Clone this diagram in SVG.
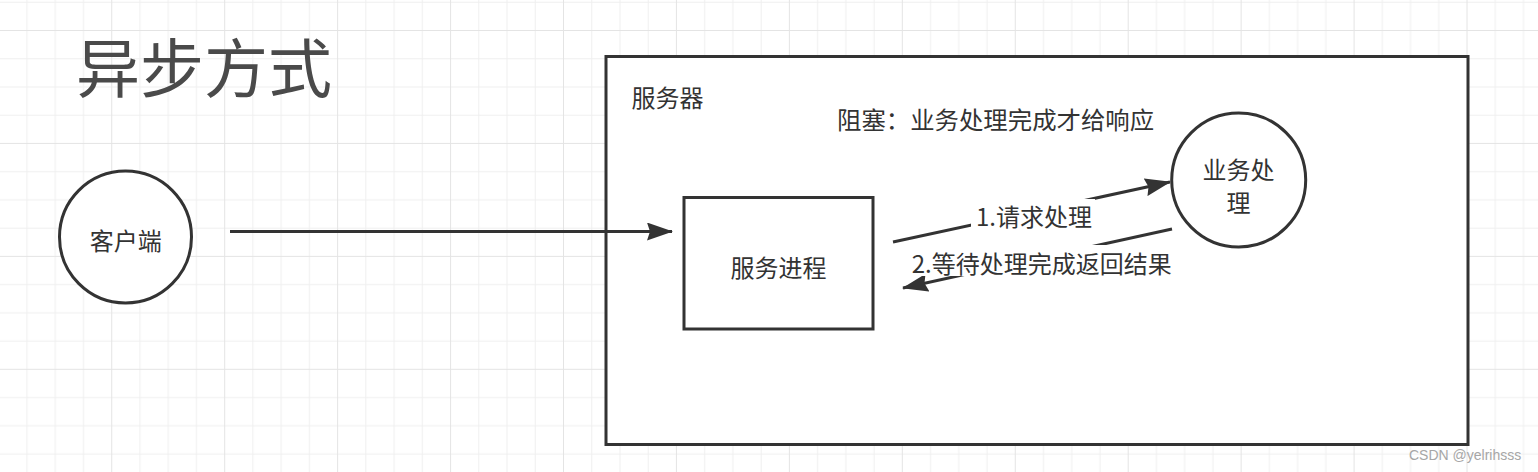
<svg xmlns="http://www.w3.org/2000/svg" width="1538" height="472" viewBox="0 0 1538 472">
  <style>
    .t { font-family: "Noto Sans CJK SC", "Noto Sans", sans-serif; fill: #333333; dominant-baseline: central; }
    .shape { fill: #ffffff; stroke: #333333; stroke-width: 3; }
    .conn { fill: none; stroke: #333333; stroke-width: 3; }
    .lblbg { fill: #ffffff; stroke: none; }
  </style>
  <defs>
    <pattern id="grid" patternUnits="userSpaceOnUse" x="-1.7" y="30" width="112.94" height="112.94">
      <rect x="0" y="0" width="112.94" height="112.94" fill="#ffffff"/>
      <g fill="#efefef">
        <rect x="28.235" y="0" width="1" height="112.94"/>
        <rect x="56.47" y="0" width="1" height="112.94"/>
        <rect x="84.705" y="0" width="1" height="112.94"/>
        <rect x="0" y="28.235" width="112.94" height="1"/>
        <rect x="0" y="56.47" width="112.94" height="1"/>
        <rect x="0" y="84.705" width="112.94" height="1"/>
      </g>
      <g fill="#e4e4e4">
        <rect x="0" y="0" width="1" height="112.94"/>
        <rect x="0" y="0" width="112.94" height="1"/>
      </g>
    </pattern>
    <marker id="arrow" viewBox="0 0 26 18" refX="25" refY="9" markerWidth="26" markerHeight="18" markerUnits="userSpaceOnUse" orient="auto">
      <path d="M0,0 L26,9 L0,18 L3,9 Z" fill="#333333"/>
    </marker>
  </defs>

  <rect x="0" y="0" width="1538" height="472" fill="url(#grid)"/>

  <g id="title">
    <text class="t" x="76" y="63.5" font-size="64" style="fill:#4a4a4a">异步方式</text>
  </g>

  <g id="server">
    <rect class="shape" x="606" y="56.5" width="862" height="388"/>
    <text class="t" x="667.5" y="96" font-size="24" text-anchor="middle">服务器</text>
  </g>

  <g id="note">
    <text class="t" x="837" y="118" font-size="24.4">阻塞：业务处理完成才给响应</text>
  </g>

  <g id="client">
    <circle class="shape" cx="125.5" cy="237" r="66"/>
    <text class="t" x="125.8" y="239" font-size="24" text-anchor="middle">客户端</text>
  </g>

  <g id="service-process">
    <rect class="shape" x="684" y="197.5" width="189" height="131.5"/>
    <text class="t" x="778.5" y="266" font-size="24" text-anchor="middle">服务进程</text>
  </g>

  <g id="business">
    <circle class="shape" cx="1238.7" cy="180" r="67"/>
    <text class="t" x="1238.5" y="168" font-size="24" text-anchor="middle">业务处</text>
    <text class="t" x="1238.5" y="201" font-size="24" text-anchor="middle">理</text>
  </g>

  <g id="connectors">
    <line class="conn" x1="230" y1="231.5" x2="672" y2="231.5" marker-end="url(#arrow)"/>
    <line class="conn" x1="893" y1="242" x2="1170" y2="182" marker-end="url(#arrow)"/>
    <line class="conn" x1="1172" y1="229" x2="903" y2="288" marker-end="url(#arrow)"/>
    <rect class="lblbg" x="971" y="199" width="124" height="28"/>
    <text class="t" x="1034" y="215" font-size="24" text-anchor="middle">1.请求处理</text>
    <rect class="lblbg" x="907" y="245" width="270" height="31"/>
    <text class="t" x="1041.7" y="262" font-size="24" text-anchor="middle">2.等待处理完成返回结果</text>
  </g>

  <g id="watermark">
    <text x="1409" y="460" font-family="Liberation Sans, Arial, sans-serif" font-size="14" fill="#a6a6a6">CSDN @yelrihsss</text>
  </g>
</svg>
